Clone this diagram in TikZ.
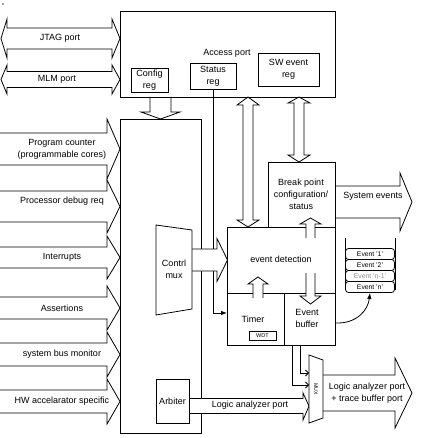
\documentclass[tikz,border=0pt]{standalone}
\usepackage{fontspec}
\setmainfont{Liberation Sans}
\usetikzlibrary{arrows.meta}
\begin{document}
\begin{tikzpicture}[x=1pt,y=-1pt,line width=0.8pt,
  txt/.style={font=\fontsize{9}{12}\selectfont, align=center, inner sep=0pt},
  box/.style={draw, anchor=north west, inner sep=0pt, outer sep=0pt},
  barrow/.style={draw, fill=white, line join=miter},
  evt/.style={draw, fill=white, rounded corners=3pt, minimum width=49pt, minimum height=11pt, inner sep=0pt, font=\fontsize{6.8}{7}\selectfont},
  tip/.style={-{Latex[length=6pt,width=4.5pt]}},
  barb/.style={-{Straight Barb[length=3pt,width=6pt]}}]
\useasboundingbox (0,0) rectangle (421,438);
\fill[black!70] (3,4) circle (0.8);

% ---- arrows that only touch borders (drawn first)
\draw[barrow] (7,28) -- (112,28) -- (112,19) -- (120,38.5) -- (112,58) -- (112,49) -- (7,49) -- (7,58) -- (1,38.5) -- (7,19) -- cycle;
\draw[barrow] (7,71.5) -- (112,71.5) -- (112,65) -- (120,79.5) -- (112,94) -- (112,87.5) -- (7,87.5) -- (7,94) -- (1,79.5) -- (7,65) -- cycle;
\foreach \t/\b/\c/\ht/\hb in {133/165/149/119/179, 191/222/206.5/180/233, 247/268/257.5/236/279, 297/319/308/286/330, 343/366/354.5/332/377, 390/413/401.5/379/424}
  \draw[barrow] (0,\t) -- (107,\t) -- (107,\ht) -- (120,\c) -- (107,\hb) -- (107,\b) -- (0,\b);
\draw[barrow] (150,97) -- (150,112) -- (141,112) -- (160.5,119) -- (180,112) -- (171,112) -- (171,97);
\draw[barrow] (248,97) -- (259,105) -- (253,105) -- (253,220) -- (259,220) -- (248,227) -- (237,220) -- (243,220) -- (243,105) -- (237,105) -- cycle;
\draw[barrow] (299,97) -- (310,103) -- (304,103) -- (304,155) -- (310,155) -- (299,162) -- (288,155) -- (294,155) -- (294,103) -- (288,103) -- cycle;
\draw[barrow] (335,186) -- (400,186) -- (400,173) -- (412,202) -- (400,231) -- (400,218) -- (335,218);
\draw[barrow] (323,375) -- (395,375) -- (395,358) -- (412,393) -- (395,428) -- (395,411) -- (323,411);

% ---- boxes
\node[box, minimum width=215pt, minimum height=86pt] (ap) at (120,11) {};
\node[box, minimum width=37pt, minimum height=24pt] (cfg) at (131,68) {};
\node[box, minimum width=46pt, minimum height=26pt] (st) at (190,63) {};
\node[box, minimum width=61pt, minimum height=33pt] (sw) at (258,53) {};
\node[box, minimum width=81pt, minimum height=314pt] (mb) at (120,119) {};
\node[box, minimum width=67pt, minimum height=65pt] (bp) at (268,162) {};
\node[box, minimum width=108pt, minimum height=66pt] (ed) at (227,227) {};
\node[box, minimum width=57pt, minimum height=52pt] (tm) at (227,293) {};
\node[box, minimum width=51pt, minimum height=52pt] (eb) at (284,293) {};
\node[box, minimum width=27pt, minimum height=9pt, line width=1pt] (wdt) at (249,331) {};

% status line
\draw[tip] (st.south) |- ([yshift=6pt]tm.west);

% ---- arrows crossing borders
\draw[barrow] (192,249) -- (217,249) -- (217,238.5) -- (227.5,260) -- (217,281.5) -- (217,271) -- (192,271);
\draw[barrow] (189,398.5) -- (303,398.5) -- (303,393) -- (309,406) -- (303,420) -- (303,413.5) -- (189,413.5);
\draw[barrow] (306,238) -- (306,224) -- (300,224) -- (310.5,218) -- (321,224) -- (315,224) -- (315,238);
\draw[barrow] (306,273) -- (306,296) -- (300,296) -- (310.5,304) -- (321,296) -- (315,296) -- (315,273);
\draw[barrow] (253,298) -- (253,284) -- (248,284) -- (258,277) -- (268,284) -- (263,284) -- (263,298);

% contrl mux, arbiter, MUX drawn over arrow ends
\draw[fill=white] (156,225) -- (192,230) -- (192,309) -- (156,315) -- cycle;
\node[box, minimum width=33pt, minimum height=44pt] (arb) at (156,379) {};
\draw[fill=white] (309,355) -- (323,360) -- (323,418) -- (309,423) -- cycle;

% event list
\draw (345,238) -- (345,290);
\draw (395,238) -- (395,290);
\node[evt] (e1) at (370,254) {Event '1'};
\node[evt] (e2) at (370,265) {Event '2'};
\node[evt, text=black!45] (e3) at (370,276) {Event 'n-1'};
\node[evt] (en) at (370,287) {Event 'n'};
\draw[tip] ([yshift=-4pt]eb.east) .. controls (357,324) and (368,310) .. (en.south);

% MUX inputs
\coordinate (mi1) at (309,373);
\coordinate (mi2) at (309,385);
\draw[barb] ([xshift=-9.5pt]eb.south) |- (mi1);
\draw[barb] ([xshift=-17.5pt]eb.south) |- (mi2);

% ---- texts
\node[txt] (aplbl) at (227,53) {Access port};
\node[txt] (cfgt) at (cfg.center) {Config\\reg};
\node[txt] (stt) at (st.center) {Status\\reg};
\node[txt] (swt) at (sw.center) {SW event\\reg};
\node[txt] (jt) at (60,38.5) {JTAG port};
\node[txt] (mlm) at (57,79.5) {MLM port};
\node[txt] (tpc) at (62,149.5) {Program counter\\(programmable cores)};
\node[txt] (tpd) at (62,201.5) {Processor debug req};
\node[txt] (tin) at (62,257.5) {Interrupts};
\node[txt] (tas) at (62,308) {Assertions};
\node[txt] (tsb) at (62,354.5) {system bus monitor};
\node[txt] (thw) at (62,401.5) {HW accelarator specific};
\node[txt] (cmt) at (174,269) {Contrl\\mux};
\node[txt] (arbt) at (arb.center) {Arbiter};
\node[txt] (bpt) at (301,194.5) {Break point\\configuration/\\status};
\node[txt] (sys) at (373,196) {System events};
\node[txt] (edt) at (281,259) {event detection};
\node[txt] (tmt) at (253,319) {Timer};
\node[txt, font=\fontsize{5.5}{6}\selectfont] (wdtt) at (wdt.center) {WDT};
\node[txt] (ebt) at (307,318) {Event\\buffer};
\node[txt] (lap) at (250,405.5) {Logic analyzer port};
\node[txt] (lat) at (367,393) {Logic analyzer port\\+ trace buffer port};
\node[txt, rotate=-90, font=\fontsize{5.2}{6}\selectfont] (muxt) at (316,389) {MUX};
\end{tikzpicture}
\end{document}
